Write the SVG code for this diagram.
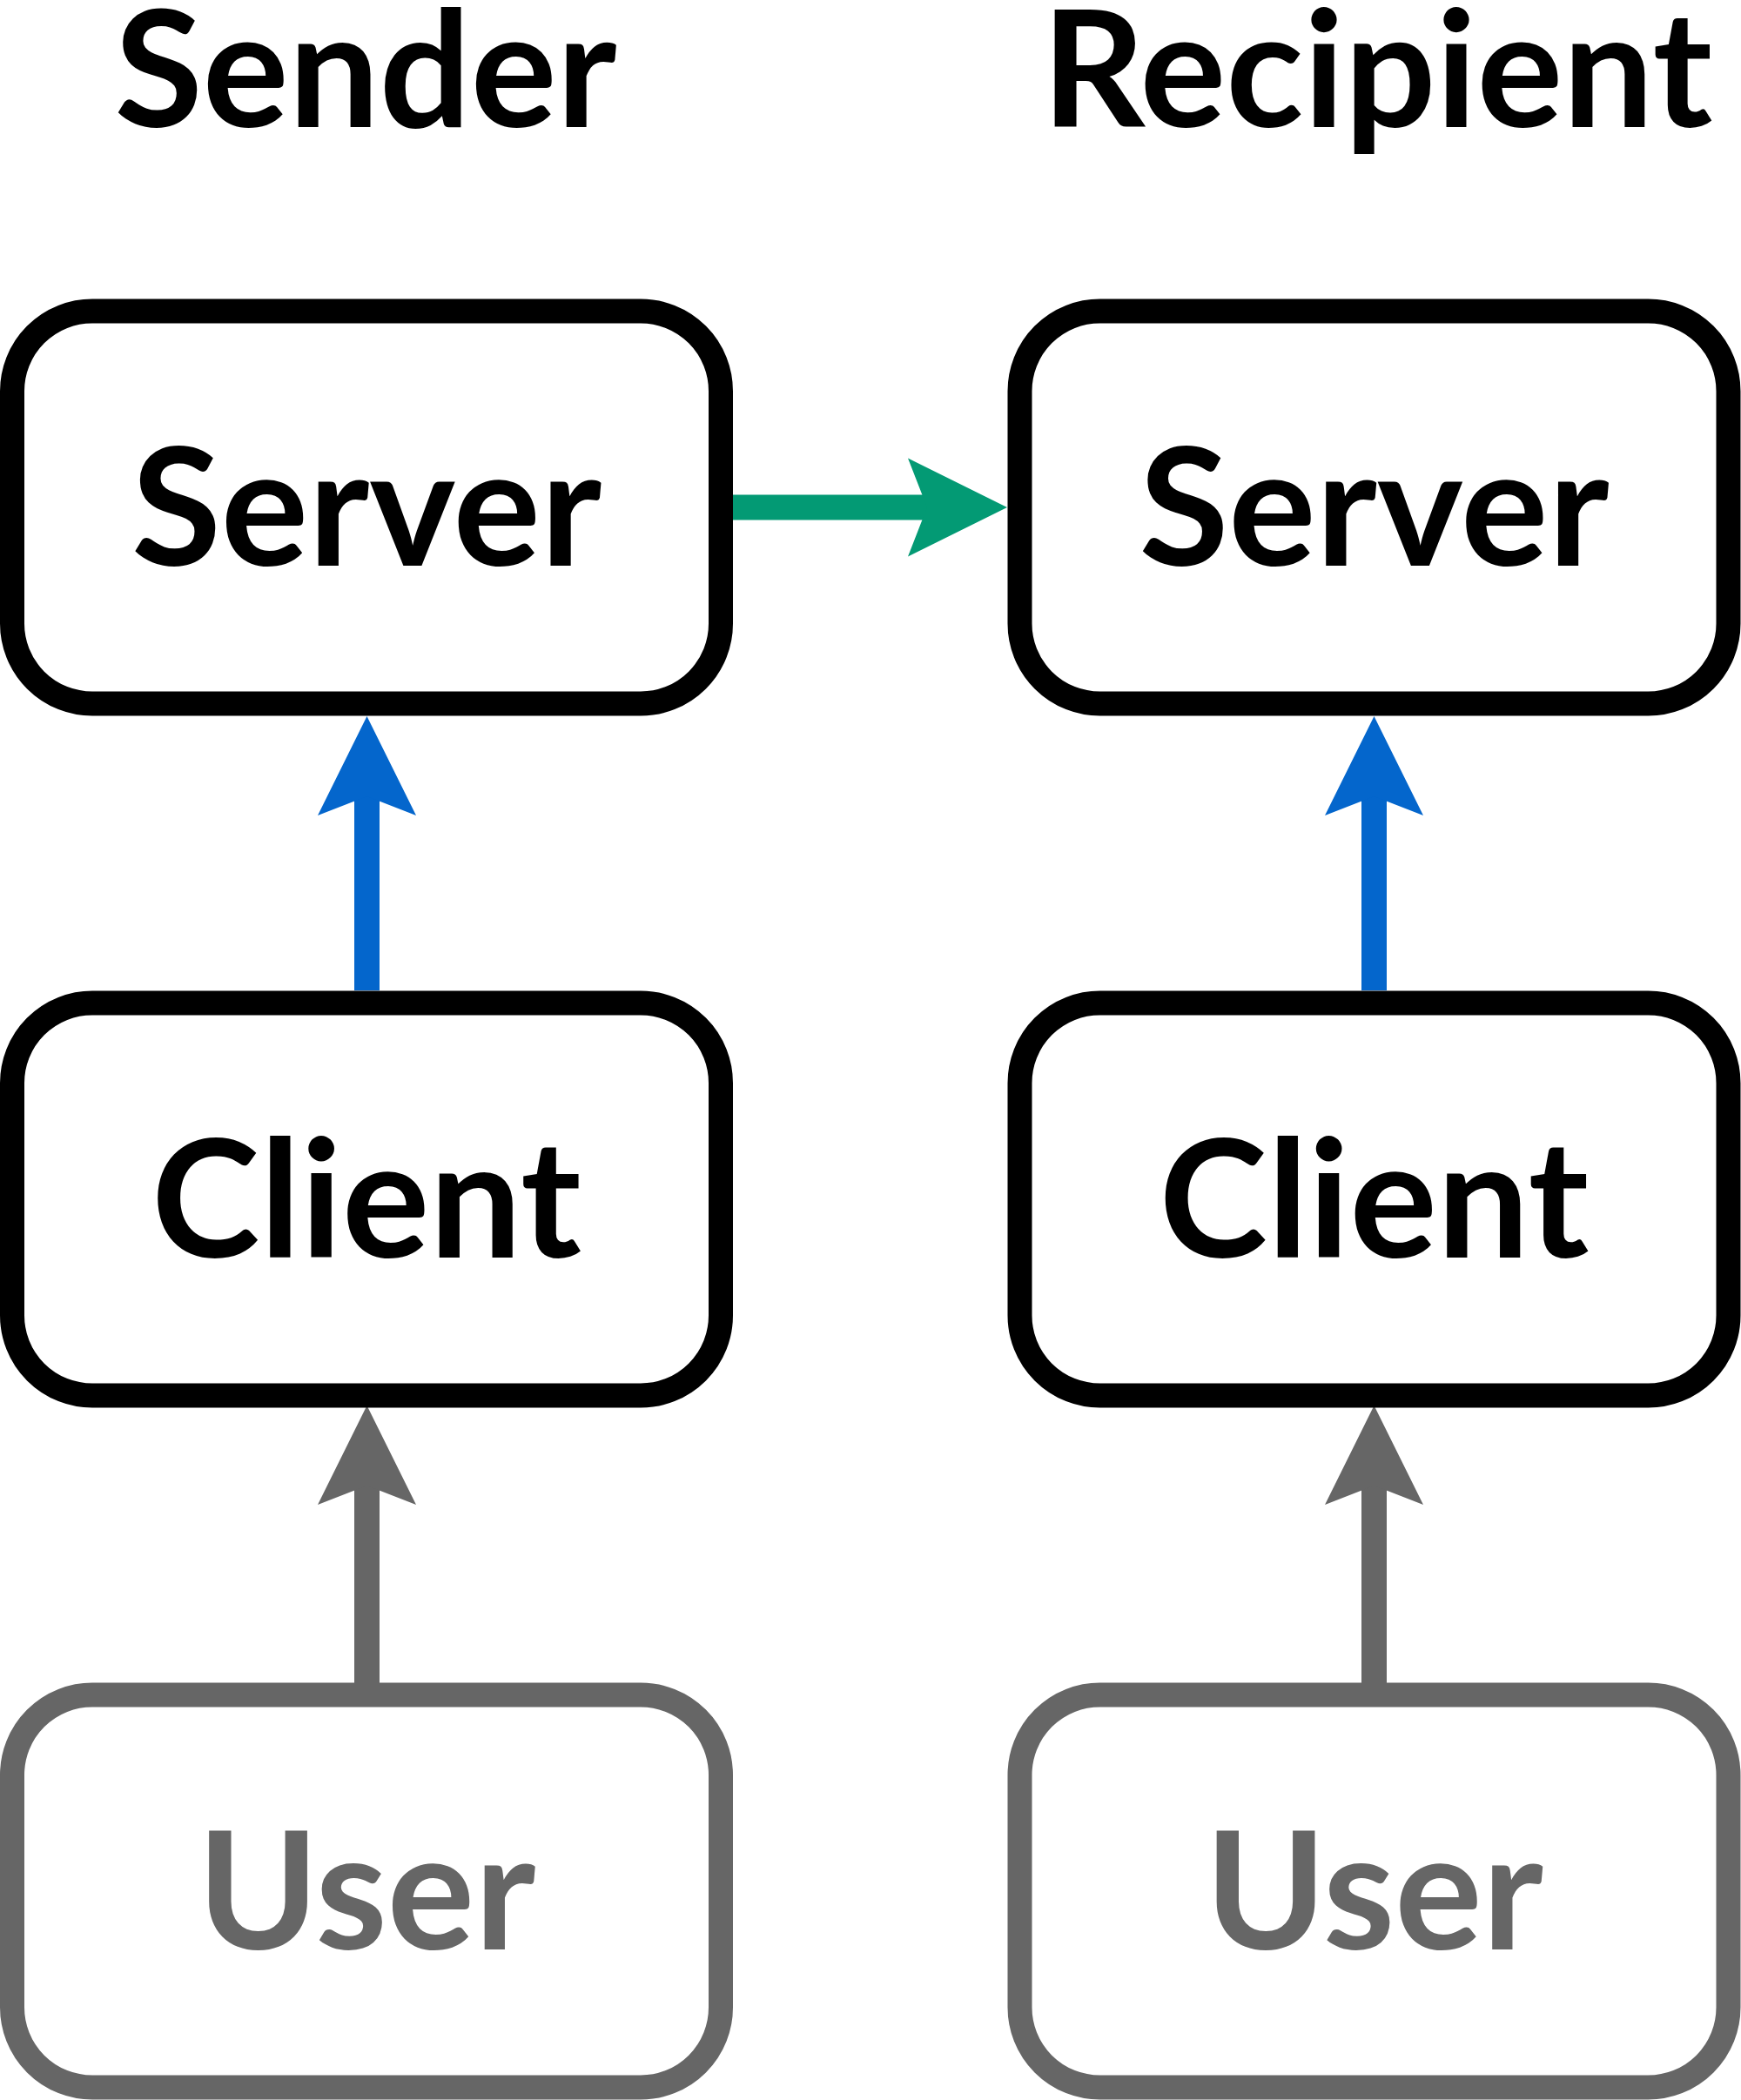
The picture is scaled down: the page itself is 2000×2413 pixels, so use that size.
<svg xmlns="http://www.w3.org/2000/svg" width="2000" height="2413" viewBox="0 0 2000 2413">
<style>
.box{fill:#fff;stroke-width:28}
.k{stroke:#000}
.g{stroke:#666}
.t{font-family:Lato,"Liberation Sans",sans-serif;font-weight:bold;text-anchor:middle}
.lbl{font-size:188px}
.ttl{font-size:185px;fill:#000}
</style>
<rect width="2000" height="2413" fill="#fff"/>
<g id="titles">
<text class="t ttl" x="420" y="146">Sender</text>
<text class="t ttl" x="1582" y="146">Recipient</text>
</g>
<g id="connectors">
<line x1="842" y1="583" x2="1068" y2="583" stroke="#039a74" stroke-width="29"/>
<polygon points="1157,583 1043,526.5 1065,583 1043,639.5" fill="#039a74"/>
<line x1="421.5" y1="1138" x2="421.5" y2="912" stroke="#0466cc" stroke-width="29"/>
<polygon points="421.5,823 365,937 421.5,915 478,937" fill="#0466cc"/>
<line x1="1578.5" y1="1138" x2="1578.5" y2="912" stroke="#0466cc" stroke-width="29"/>
<polygon points="1578.5,823 1522,937 1578.5,915 1635,937" fill="#0466cc"/>
<line x1="421.5" y1="1934" x2="421.5" y2="1704" stroke="#666" stroke-width="29"/>
<polygon points="421.5,1615 365,1729 421.5,1707 478,1729" fill="#666"/>
<line x1="1578.5" y1="1934" x2="1578.5" y2="1704" stroke="#666" stroke-width="29"/>
<polygon points="1578.5,1615 1522,1729 1578.5,1707 1635,1729" fill="#666"/>
</g>
<g id="sender-server">
<rect class="box k" x="14" y="357.5" width="814" height="451" rx="92"/>
<text class="t lbl" x="421" y="650" fill="#000">Server</text>
</g>
<g id="recipient-server">
<rect class="box k" x="1171.5" y="357.5" width="814" height="451" rx="92"/>
<text class="t lbl" x="1578.5" y="650" fill="#000">Server</text>
</g>
<g id="sender-client">
<rect class="box k" x="14" y="1152.5" width="814" height="451" rx="92"/>
<text class="t lbl" x="421" y="1445" fill="#000">Client</text>
</g>
<g id="recipient-client">
<rect class="box k" x="1171.5" y="1152.5" width="814" height="451" rx="92"/>
<text class="t lbl" x="1578.5" y="1445" fill="#000">Client</text>
</g>
<g id="sender-user">
<rect class="box g" x="14" y="1947.5" width="814" height="451" rx="92"/>
<text class="t lbl" x="421" y="2240" fill="#666">User</text>
</g>
<g id="recipient-user">
<rect class="box g" x="1171.5" y="1947.5" width="814" height="451" rx="92"/>
<text class="t lbl" x="1578.5" y="2240" fill="#666">User</text>
</g>
</svg>
